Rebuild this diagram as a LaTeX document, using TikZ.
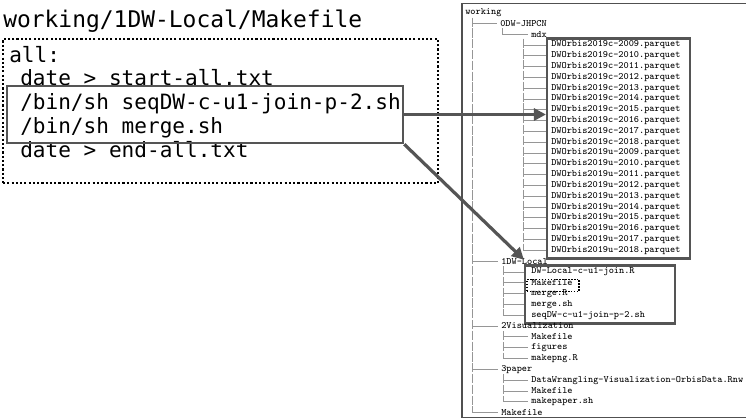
\documentclass[tikz,border=0pt]{standalone}
\usepackage{fontspec}
\newfontfamily\codefont{DejaVu Sans Mono}
\usetikzlibrary{arrows.meta,fit,backgrounds}
\definecolor{boxgray}{RGB}{85,85,85}
\definecolor{treegray}{RGB}{150,150,150}
\definecolor{framegray}{RGB}{80,80,80}
\begin{document}
\begin{tikzpicture}[x=0.75pt,y=-0.75pt,
  titletext/.style={font=\codefont\fontsize{17.2pt}{18pt}\selectfont, anchor=base west, inner sep=0},
  codetext/.style={font=\codefont\fontsize{15.8pt}{17pt}\selectfont, anchor=base west, inner sep=0},
  treetext/.style={font=\ttfamily\fontsize{7.3pt}{8pt}\selectfont, anchor=west, inner sep=0},
  dotbox/.style={draw=black, line width=1.7pt, dash pattern=on 1.6pt off 1.6pt, inner sep=0},
  smalldot/.style={draw=black, line width=1.1pt, dash pattern=on 1.1pt off 1.1pt, inner sep=0},
  hlbox/.style={draw=boxgray, line width=2pt, inner sep=0},
  listbox/.style={draw=boxgray, line width=1.6pt, fill=white, inner sep=0},
  framebox/.style={draw=framegray, line width=1.1pt, fill=white, inner sep=0},
  conn/.style={draw=boxgray, line width=2.4pt, -{Triangle[length=9pt,width=9pt]}},
  tline/.style={draw=treegray, line width=0.6pt},
  vline/.style={tline, dash pattern=on 7pt off 1.1pt}]
\useasboundingbox (0,0) rectangle (746,419);

% ---------- left: Makefile ----------
\node[titletext] (ttl) at (3,27) {working/1DW-Local/Makefile};
\node[codetext] (l1) at (9,62) {all:};
\node[codetext] (l2) at (20,85.5) {date > start-all.txt};
\node[codetext] (l3) at (20,109.5) {/bin/sh seqDW-c-u1-join-p-2.sh};
\node[codetext] (l4) at (20,133) {/bin/sh merge.sh};
\node[codetext] (l5) at (20,157) {date > end-all.txt};
\node[dotbox, fit={(3,39) (438,183)}] (mk) {};
\node[hlbox, fit={(7,86) (403,143)}] (hl) {};

% ---------- right: directory tree ----------
\node[treetext] (t0) at (465,12.5) {working};
\node[treetext] (t1) at (500,23.3) {0DW-JHPCN};
\node[treetext] (t2) at (531,34.1) {mdx};
\foreach \s [count=\i from 3, evaluate=\i as \yy using {12.5+10.81*\i}] in
  {c-2009,c-2010,c-2011,c-2012,c-2013,c-2014,c-2015,c-2016,c-2017,c-2018,
   u-2009,u-2010,u-2011,u-2012,u-2013,u-2014,u-2015,u-2016,u-2017,u-2018}
  \node[treetext] (t\i) at (551,\yy) {DWOrbis2019\s.parquet};
\node[treetext] (t23) at (501,261.1) {1DW-Local};
\node[treetext] (t24) at (531,271.9) {DW-Local-c-u1-join.R};
\node[treetext] (t25) at (531,282.8) {Makefile};
\node[treetext] (t26) at (531,293.6) {merge.R};
\node[treetext] (t27) at (531,304.4) {merge.sh};
\node[treetext] (t28) at (531,315.2) {seqDW-c-u1-join-p-2.sh};
\node[treetext] (t29) at (501,326.0) {2Visualization};
\node[treetext] (t30) at (531,336.8) {Makefile};
\node[treetext] (t31) at (531,347.6) {figures};
\node[treetext] (t32) at (531,358.4) {makepng.R};
\node[treetext] (t33) at (501,369.2) {3paper};
\node[treetext] (t34) at (531,380.1) {DataWrangling-Visualization-OrbisData.Rnw};
\node[treetext] (t35) at (531,390.9) {Makefile};
\node[treetext] (t36) at (531,401.7) {makepaper.sh};
\node[treetext] (t37) at (501,412.3) {Makefile};

\begin{scope}[on background layer]
  \node[framebox, fit={(462,3.5) (749,417.5)}] (frame) {};
  \coordinate (c0) at (472,17.5);
  \coordinate (c1) at (502,28);
  \coordinate (c2) at (523,38.5);
  \coordinate (c23) at (503,266);
  \coordinate (c29) at (503,331);
  \coordinate (c33) at (503,374);
  \draw[vline] (c0) -- (c0 |- t37.west);
  \foreach \k in {1,23,29,33,37}
    \draw[tline] (c0 |- t\k.west) -- ([xshift=-2pt]t\k.west);
  \draw[vline] (c1) -- (c1 |- t2.west);
  \draw[tline] (c1 |- t2.west) -- ([xshift=-2pt]t2.west);
  \draw[vline] (c2) -- (c2 |- t22.west);
  \foreach \k in {3,...,22}
    \draw[tline] (c2 |- t\k.west) -- (t\k.west);
  \draw[vline] (c23) -- (c23 |- t28.west);
  \foreach \k in {24,...,28}
    \draw[tline] (c23 |- t\k.west) -- ([xshift=-2pt]t\k.west);
  \draw[vline] (c29) -- (c29 |- t32.west);
  \foreach \k in {30,31,32}
    \draw[tline] (c29 |- t\k.west) -- ([xshift=-2pt]t\k.west);
  \draw[vline] (c33) -- (c33 |- t36.west);
  \foreach \k in {34,35,36}
    \draw[tline] (c33 |- t\k.west) -- ([xshift=-2pt]t\k.west);
  \node[listbox, fit={(547,38.5) (690,258.5)}] (pq) {};
  \node[listbox, fit={(525,265.5) (675,323.5)}] (lb) {};
\end{scope}
\node[smalldot, fit={(527,279.5) (579,291.5)}] (mkd) {};

% ---------- connectors ----------
\draw[conn] (hl.east) -- (hl.east -| pq.west);
\draw[conn] (hl.south east) -- ([yshift=3.5pt]lb.north west);
\end{tikzpicture}
\end{document}
